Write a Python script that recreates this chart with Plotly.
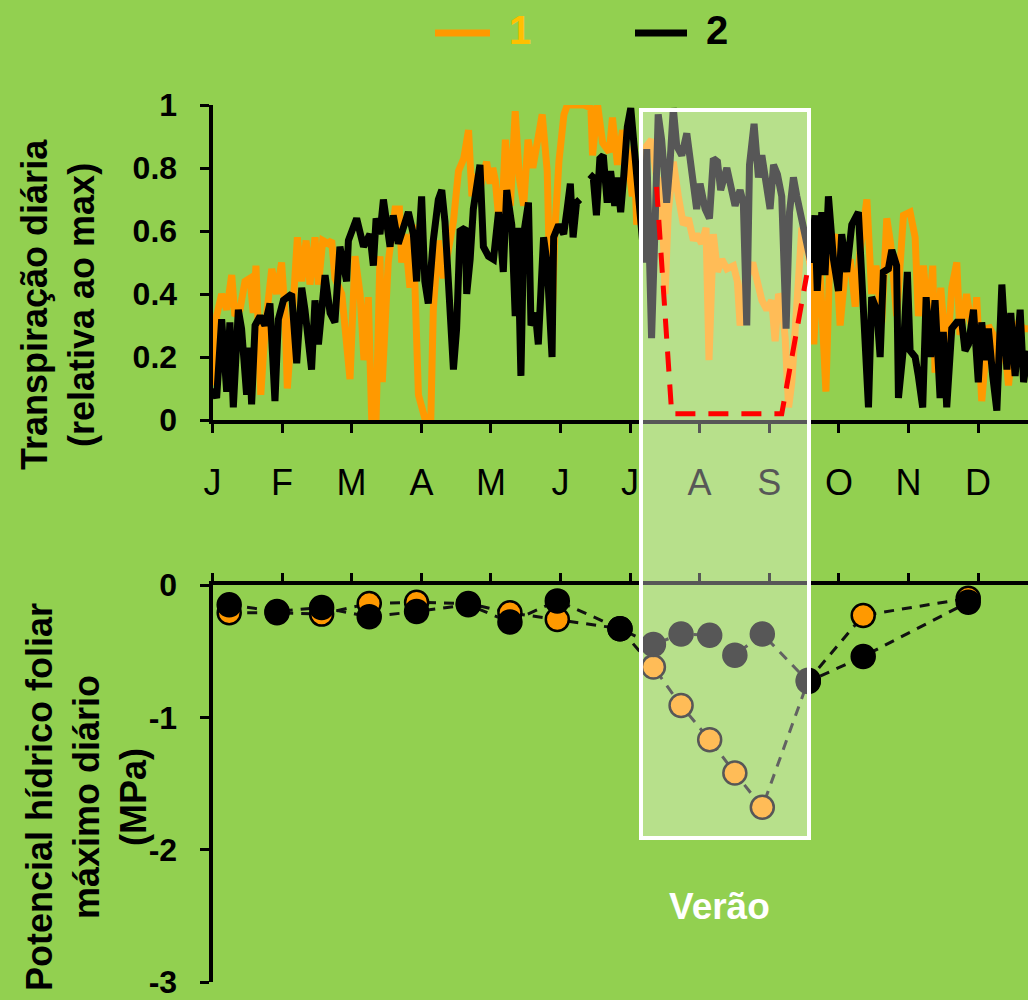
import plotly.graph_objects as go

W, H = 1028, 1000
BG = "#92D050"
ORANGE = "#FF9900"
GOLD = "#FFC000"
FONT = "Liberation Sans"

# ---------------- data ----------------
month_labels = ["J", "F", "M", "A", "M", "J", "J", "A", "S", "O", "N", "D"]
month_ticks = [0, 30.4, 60.8, 91.3, 121.7, 152.1, 182.5, 212.9, 243.3, 273.8, 304.2, 334.6]

# Series 1 (orange): daily transpiration relative to max
t1_days = [0.4, 1.8, 4.0, 6.2, 8.4, 9.8, 12.0, 14.2, 16.4, 17.8, 19.0, 20.0, 21.1, 23.0, 25.9, 28.0,
           30.2, 31.7, 32.7, 34.6, 37.1, 39.0, 40.9, 42.6, 44.8, 46.3, 48.2, 50.6, 52.1, 53.5, 56.5,
           60.1, 62.3, 64.5, 66.2, 68.1, 69.6, 71.5, 73.2, 74.2, 76.8, 79.8, 81.7, 82.7, 84.1, 86.3,
           87.5, 88.5, 90.0, 93.0, 95.4, 96.5, 98.7, 100.9, 103.8, 105.3, 107.5, 109.8, 111.9, 113.4,
           114.8, 116.1, 119.8, 121.3, 122.5, 123.6, 126.0, 128.0, 130.2, 132.3, 134.1, 136.0, 137.9,
           140.0, 144.1, 146.3, 147.7, 148.5, 149.7, 151.4, 153.6, 155.1, 162.5, 165.4, 166.1, 168.3,
           170.5, 173.4, 174.8, 177.0, 179.2, 181.3, 183.5, 184.2, 185.4, 187.5, 189.8, 191.9, 194.1,
           196.3, 197.8, 199.2, 201.4, 203.6, 205.8, 208.0, 210.2, 211.6, 213.8, 215.7, 217.0, 218.9,
           220.7, 222.6, 224.8, 227.7, 229.4, 230.6, 232.8, 236.1, 237.9, 240.1, 242.3, 244.4, 245.9,
           247.4, 248.8, 250.3, 251.8, 253.2, 254.7, 256.1, 257.6, 258.6, 261.5, 262.8, 265.0, 268.1,
           269.9, 272.1, 274.3, 276.5, 278.7, 280.9, 283.1, 286.0, 288.1, 290.0, 292.5, 294.7, 296.4,
           299.0, 302.0, 304.9, 307.1, 308.5, 310.7, 312.9, 314.8, 315.8, 318.3, 320.9, 323.1, 325.3,
           326.7, 329.6, 332.6, 334.0, 336.2, 339.1, 341.3, 343.5, 345.7, 347.9, 350.1, 352.3, 354.5,
           356.4]
t1_vals = [0.11, 0.33, 0.40, 0.35, 0.46, 0.33, 0.35, 0.44, 0.45, 0.34, 0.49, 0.29, 0.08, 0.29, 0.48, 0.40,
           0.50, 0.34, 0.10, 0.29, 0.58, 0.44, 0.57, 0.43, 0.58, 0.43, 0.57, 0.56, 0.57, 0.45, 0.40,
           0.13, 0.52, 0.40, 0.19, 0.39, 0.00, 0.00, 0.52, 0.12, 0.50, 0.67, 0.67, 0.50, 0.59, 0.42,
           0.62, 0.42, 0.08, 0.00, 0.00, 0.35, 0.57, 0.45, 0.59, 0.63, 0.79, 0.83, 0.92, 0.71,
           0.78, 0.71, 0.82, 0.75, 0.80, 0.76, 0.57, 0.89, 0.68, 0.98, 0.77, 0.68, 0.89,
           0.80, 0.97, 0.79, 0.35, 0.33, 0.61, 0.82, 0.97, 1.00, 1.00, 0.99, 0.84, 1.00,
           0.88, 0.85, 0.96, 0.81, 0.92, 0.84, 0.71, 0.87, 0.62, 0.74, 0.87, 0.89, 0.77,
           0.75, 0.40, 0.66, 0.82, 0.71, 0.62, 0.64, 0.57, 0.59, 0.56, 0.61, 0.19, 0.59,
           0.47, 0.51, 0.48, 0.49, 0.44, 0.30, 0.44, 0.50, 0.44, 0.38, 0.35, 0.38, 0.25,
           0.40, 0.38, 0.26, 0.04, 0.12, 0.29, 0.45, 0.61, 0.59, 0.48, 0.24, 0.55, 0.09,
           0.54, 0.59, 0.30, 0.47, 0.51, 0.36, 0.54, 0.70, 0.40, 0.49, 0.31, 0.64, 0.56,
           0.33, 0.65, 0.66, 0.58, 0.33, 0.49, 0.31, 0.49, 0.15, 0.42, 0.18, 0.42, 0.50,
           0.27, 0.40, 0.25, 0.39, 0.06, 0.30, 0.27, 0.17, 0.28, 0.11, 0.27, 0.31, 0.29,
           0.29]

# Series 2 (black): daily transpiration relative to max (None = missing days)
t2_days = [0.1, 1.8, 4.0, 6.2, 7.6, 9.1, 11.3, 12.7, 14.9, 16.1, 17.1, 18.6, 20.8, 22.9, 25.1, 27.3,
           28.8, 31.0, 34.6, 36.8, 39.0, 40.4, 43.3, 44.8, 46.3, 49.2, 51.4, 53.5, 55.7, 58.6, 59.4,
           63.0, 66.0, 68.8, 70.3, 71.5, 73.2, 74.7, 77.6, 79.0, 81.2, 85.6, 87.8, 89.2, 91.4, 92.8,
           94.3, 96.5, 98.7, 100.2, 101.6, 103.8, 105.3, 106.7, 108.2, 110.4, 111.1, 112.6, 114.0,
           116.9, 118.4, 120.6, 122.8, 125.0, 127.1, 128.6, 130.8, 132.3, 133.3, 134.8, 136.0, 138.1,
           139.2, 141.1, 142.4, 144.7, 146.2, 148.4, 149.1, 151.3, 153.5, 155.0, 156.4, 157.6, 159.1,
           160.5, 162.7, 164.9, 166.4, 167.8, 169.3, 170.8, 172.5, 174.0, 175.8, 176.9, 178.4, 179.8,
           181.3, 182.8, 184.5, 186.1, 188.8, 189.8, 191.9, 193.4, 194.8, 196.3, 198.5, 200.0, 201.4,
           202.9, 205.1, 207.3, 209.4, 211.6, 213.1, 215.3, 217.2, 218.9, 220.7, 222.1, 224.8, 226.9,
           228.4, 230.6, 232.0, 233.5, 234.7, 236.7, 238.6, 240.1, 242.3, 243.7, 245.2, 246.9, 248.8,
           250.7, 252.2, 253.9, 255.4, 256.8, 258.3, 261.5, 263.3, 264.3, 266.3, 267.7, 269.2, 271.4,
           273.6, 275.0, 277.2, 279.4, 282.3, 284.5, 286.7, 288.1, 290.3, 291.8, 293.2, 295.4, 296.9,
           299.0, 299.8, 302.0, 303.7, 304.9, 307.1, 308.5, 310.4, 311.9, 313.9, 315.8, 318.0, 319.4,
           320.9, 323.1, 325.3, 327.5, 328.9, 330.4, 332.6, 334.7, 336.2, 337.7, 339.1, 341.0, 342.8,
           345.0, 347.2, 348.9, 350.8, 353.0, 354.5, 356.4]
t2_vals = [0.10, 0.07, 0.32, 0.09, 0.31, 0.04, 0.35, 0.29, 0.08, 0.23, 0.05, 0.30, 0.33, 0.30, 0.37, 0.06,
           0.32, 0.38, 0.40, 0.18, 0.42, 0.35, 0.16, 0.38, 0.24, 0.46, 0.34, 0.31, 0.55, 0.44, 0.57,
           0.64, 0.55, 0.59, 0.49, 0.64, 0.59, 0.70, 0.55, 0.65, 0.56, 0.66, 0.59, 0.44, 0.71, 0.44,
           0.37, 0.57, 0.70, 0.73, 0.63, 0.31, 0.16, 0.29, 0.60, 0.61, 0.40, 0.51, 0.67,
           0.81, 0.55, 0.52, 0.51, 0.66, 0.47, 0.73, 0.62, 0.33, 0.61, 0.14, 0.59, 0.69,
           0.30, 0.34, 0.24, 0.58, 0.50, 0.20, 0.58, 0.62, 0.59, 0.67, 0.75, 0.58, 0.69,
           0.70, None, 0.78, 0.77, 0.65, 0.83, 0.84, 0.69, 0.79, 0.68, 0.77, 0.66, 0.78,
           0.93, 0.99, 0.84, 0.72, 0.50, 0.86, 0.26, 0.61, 0.97, 0.89, 0.69, 0.82, 0.99,
           0.87, 0.84, 0.91, 0.78, 0.67, 0.75, 0.67, 0.64, 0.83, 0.82, 0.73, 0.80, 0.74,
           0.68, 0.73, 0.69, 0.30, 0.81, 0.94, 0.77, 0.84, 0.74, 0.67, 0.81, 0.78, 0.71,
           0.29, 0.66, 0.77, 0.71, 0.66, 0.63, 0.50, 0.65, 0.41, 0.66, 0.46, 0.71, 0.51,
           0.41, 0.59, 0.47, 0.62, 0.66, 0.39, 0.04, 0.39, 0.35, 0.20, 0.47, 0.48, 0.54,
           0.49, 0.07, 0.23, 0.47, 0.22, 0.20, 0.14, 0.04, 0.39, 0.20, 0.38, 0.07, 0.28,
           0.04, 0.29, 0.31, 0.31, 0.22, 0.24, 0.35, 0.12, 0.31, 0.19, 0.29, 0.14, 0.03,
           0.43, 0.16, 0.34, 0.14, 0.35, 0.12, 0.22]

# Red dashed schematic line (top panel)
red_days = [194.1, 200.7, 248.8, 259.7]
red_vals = [0.74, 0.02, 0.02, 0.46]

# Maximum daily leaf water potential (MPa), bottom panel
wp_days = [7.3, 28.2, 47.7, 68.5, 89.2, 111.8, 130.0, 150.7, 178.1, 192.7, 204.8, 217.3, 228.3,
           240.3, 260.4, 284.4, 330.3]
wp_1 = [-0.21, -0.21, -0.22, -0.14, -0.13, -0.14, -0.21, -0.26, -0.33, -0.62, -0.91, -1.17, -1.42,
        -1.68, -0.72, -0.23, -0.10]
wp_2 = [-0.15, -0.20, -0.17, -0.24, -0.20, -0.15, -0.28, -0.12, -0.33, -0.45, -0.37, -0.38, -0.53,
        -0.37, -0.73, -0.54, -0.13]

top_ticks = [0, 0.2, 0.4, 0.6, 0.8, 1]
top_ticklabels = ["0", "0.2", "0.4", "0.6", "0.8", "1"]
bot_ticks = [0, -1, -2, -3]
bot_ticklabels = ["0", "-1", "-2", "-3"]
series_names = ["1", "2"]

# ---------------- figure ----------------
fig = go.Figure()

fig.add_trace(go.Scatter(x=t1_days, y=t1_vals, mode="lines", name=series_names[0],
                         line=dict(color=ORANGE, width=7), xaxis="x", yaxis="y",
                         showlegend=False))
fig.add_trace(go.Scatter(x=t2_days, y=t2_vals, mode="lines", name=series_names[1],
                         line=dict(color="black", width=7), connectgaps=False,
                         xaxis="x", yaxis="y", showlegend=False))

fig.add_trace(go.Scatter(x=wp_days, y=wp_1, mode="lines+markers", name=series_names[0],
                         line=dict(color="#111111", width=3, dash="10px,8px"),
                         marker=dict(size=23, color=ORANGE, line=dict(color="black", width=2.5)),
                         xaxis="x2", yaxis="y2", showlegend=False))
fig.add_trace(go.Scatter(x=wp_days, y=wp_2, mode="lines+markers", name=series_names[1],
                         line=dict(color="#111111", width=3, dash="10px,8px"),
                         marker=dict(size=23, color="black", line=dict(color="black", width=2.5)),
                         xaxis="x2", yaxis="y2", showlegend=False))

x0 = 212.5
day_px = 2.288
xmax = (W - x0) / day_px

tick_font = dict(family=FONT, size=32, color="black", weight="bold")

fig.update_layout(
    width=W, height=H,
    margin=dict(l=0, r=0, t=0, b=0, pad=0, autoexpand=False),
    paper_bgcolor=BG, plot_bgcolor="rgba(0,0,0,0)",
    showlegend=False,
    xaxis=dict(domain=[x0 / W, 1], range=[0, xmax], anchor="y", automargin=False,
               tickmode="array", tickvals=month_ticks, ticktext=month_labels,
               ticks="outside", ticklen=9, tickwidth=3, tickcolor="black",
               showline=True, linecolor="black", linewidth=4,
               showgrid=False, zeroline=False,
               tickfont=dict(family=FONT, size=36, color="black"),
               ticklabelstandoff=19),
    yaxis=dict(domain=[1 - 420 / H, 1 - 105 / H], range=[0, 1], anchor="x", automargin=False,
               tickmode="array", tickvals=top_ticks, ticktext=top_ticklabels,
               ticks="outside", ticklen=9, tickwidth=3, tickcolor="black",
               showline=True, linecolor="black", linewidth=4,
               showgrid=False, zeroline=False, tickfont=tick_font,
               ticklabelstandoff=16, ticklabeloverflow="allow"),
    xaxis2=dict(domain=[x0 / W, 1], range=[0, xmax], anchor="y2", side="top", automargin=False,
                tickmode="array", tickvals=month_ticks, showticklabels=False,
                ticks="outside", ticklen=8, tickwidth=3, tickcolor="black",
                showline=True, linecolor="black", linewidth=4,
                showgrid=False, zeroline=False),
    yaxis2=dict(domain=[1 - 982 / H, 1 - 585 / H], range=[-3, 0], anchor="x2", automargin=False,
                tickmode="array", tickvals=bot_ticks, ticktext=bot_ticklabels,
                ticks="outside", ticklen=9, tickwidth=3, tickcolor="black",
                showline=True, linecolor="black", linewidth=4,
                showgrid=False, zeroline=False, tickfont=tick_font,
                ticklabelstandoff=16, ticklabeloverflow="allow"),
)

# Summer highlight box (above traces), then red schematic line on top
red_path = "M " + " L ".join(f"{d},{v}" for d, v in zip(red_days, red_vals))
fig.update_layout(shapes=[
    dict(type="rect", xref="paper", yref="paper",
         x0=641 / W, x1=809 / W, y0=1 - 838 / H, y1=1 - 110 / H,
         fillcolor="rgba(255,255,255,0.34)", line=dict(color="white", width=4),
         layer="above"),
    dict(type="path", xref="x", yref="y", path=red_path,
         line=dict(color="#FF0000", width=5, dash="20px,13px"), layer="above"),
    # legend samples
    dict(type="line", xref="paper", yref="paper", x0=435 / W, x1=490 / W,
         y0=1 - 33 / H, y1=1 - 33 / H, line=dict(color=ORANGE, width=7)),
    dict(type="line", xref="paper", yref="paper", x0=635 / W, x1=687 / W,
         y0=1 - 33 / H, y1=1 - 33 / H, line=dict(color="black", width=7)),
])

title_font = dict(family=FONT, size=36, color="black", weight="bold")
fig.update_layout(annotations=[
    dict(text="Transpiração diária<br>(relativa ao max)", xref="paper", yref="paper",
         x=58 / W, y=1 - 305 / H, xanchor="center", yanchor="middle",
         textangle=-90, showarrow=False, font=title_font),
    dict(text="Potencial hídrico foliar<br>máximo diário<br>(MPa)", xref="paper", yref="paper",
         x=86 / W, y=1 - 797 / H, xanchor="center", yanchor="middle",
         textangle=-90, showarrow=False, font=title_font),
    dict(text="Verão", xref="paper", yref="paper", x=719 / W, y=1 - 906 / H,
         xanchor="center", yanchor="middle", showarrow=False,
         font=dict(family=FONT, size=37, color="white", weight="bold")),
    dict(text=series_names[0], xref="paper", yref="paper", x=520 / W, y=1 - 30 / H,
         xanchor="center", yanchor="middle", showarrow=False,
         font=dict(family=FONT, size=40, color=GOLD, weight="bold")),
    dict(text=series_names[1], xref="paper", yref="paper", x=717 / W, y=1 - 30 / H,
         xanchor="center", yanchor="middle", showarrow=False,
         font=dict(family=FONT, size=40, color="black", weight="bold")),
])

fig.write_html(
    "out.html",
    config={"displayModeBar": False},
    post_script="document.body.style.margin='0';document.body.style.overflow='hidden';",
)
